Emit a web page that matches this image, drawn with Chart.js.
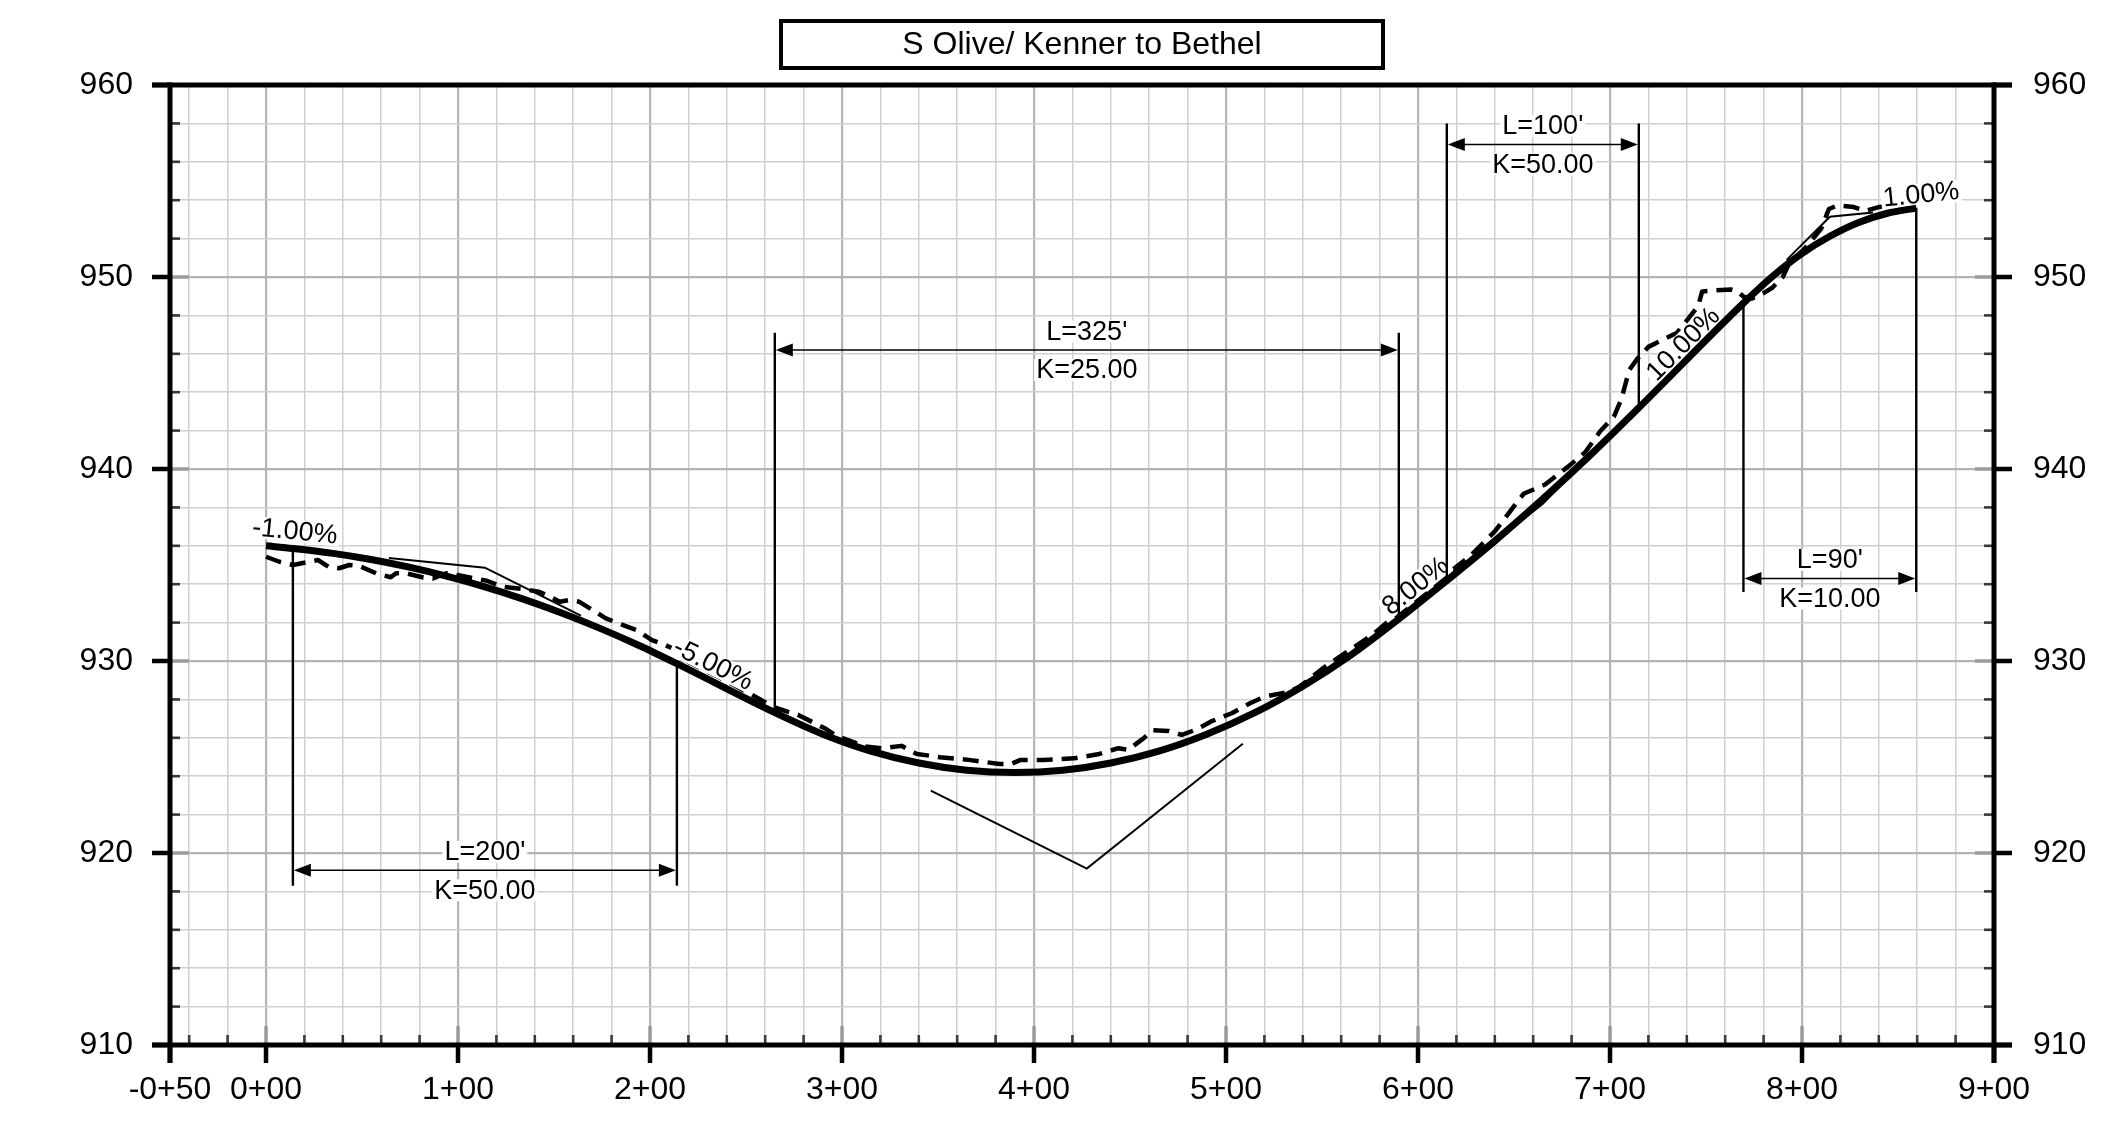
<!DOCTYPE html>
<html>
<head>
<meta charset="utf-8">
<script src="https://cdn.jsdelivr.net/npm/chart.js@4.4.0/dist/chart.umd.min.js"></script>
<style>
html,body{margin:0;padding:0;background:#fff;}
#wrap{width:2109px;height:1130px;position:relative;background:#fff;}
canvas{display:block;}
</style>
</head>
<body>
<div id="wrap"><canvas id="c" width="2109" height="1130"></canvas></div>
<script>
// ---------- data ----------
const chartTitle = 'S Olive/ Kenner to Bethel';

const xTickValues = [-50, 0, 100, 200, 300, 400, 500, 600, 700, 800, 900];
const xTickLabels = ['-0+50', '0+00', '1+00', '2+00', '3+00', '4+00', '5+00', '6+00', '7+00', '8+00', '9+00'];
const xMinorValues = [-40, -20, 20, 40, 60, 80, 120, 140, 160, 180, 220, 240, 260, 280, 320, 340, 360, 380,
  420, 440, 460, 480, 520, 540, 560, 580, 620, 640, 660, 680, 720, 740, 760, 780, 820, 840, 860, 880];
const yTickValues = [910, 920, 930, 940, 950, 960];
const yTickLabels = ['910', '920', '930', '940', '950', '960'];
const yMinorValues = [912, 914, 916, 918, 922, 924, 926, 928, 932, 934, 936, 938, 942, 944, 946, 948, 952, 954, 956, 958];

// proposed profile (thick solid)
const proposedStations = [0, 14, 34, 54, 74, 94, 114, 134, 154, 174, 194, 214, 265, 290, 315, 340, 365, 390, 415,
  440, 465, 490, 515, 540, 565, 590, 615, 640, 665, 690, 715, 769.5, 784.5, 799.5, 814.5, 829.5, 844.5, 859.5];
const proposedElev = [936.00, 935.86, 935.62, 935.30, 934.90, 934.42, 933.86, 933.22, 932.50, 931.70, 930.82, 929.86,
  927.31, 926.19, 925.31, 924.69, 924.31, 924.19, 924.31, 924.69, 925.31, 926.19, 927.31, 928.69, 930.31, 932.19,
  934.19, 936.25, 938.44, 940.75, 943.19, 948.64, 950.02, 951.19, 952.12, 952.84, 953.32, 953.59];

// existing ground (dashed)
const groundStations = [0, 7, 14, 22.6, 27, 33, 38, 43.4, 48.6, 57.3, 65, 67.7, 73, 82, 87, 94, 101, 115, 123, 135,
  142, 148, 153, 158, 163, 170, 177, 186, 193, 201, 208, 213.5, 220, 236, 252, 264, 271.5, 277, 291, 297, 312, 321,
  331, 339, 351, 366, 382, 388, 393, 405, 421, 434, 444, 449, 457, 462, 470, 477, 485, 492, 503, 512.5, 520, 533,
  538, 551, 562, 576, 587, 600, 612.5, 627, 640, 646.5, 655, 666, 678, 687, 695, 702, 706, 710, 714, 720, 735, 746,
  748, 753, 763, 766.5, 769.6, 774, 780, 784.5, 790, 793, 801.5, 810, 814, 818.5, 827, 833, 840, 846];
const groundElev = [935.43, 935.17, 935.00, 935.17, 935.26, 934.88, 934.83, 935.00, 934.95, 934.57, 934.36, 934.57,
  934.57, 934.35, 934.30, 934.57, 934.45, 934.18, 933.87, 933.73, 933.61, 933.35, 933.09, 933.18, 933.09, 932.66,
  932.22, 931.87, 931.61, 931.09, 930.83, 930.57, 929.95, 929.15, 928.30, 927.62, 927.36, 927.20, 926.50, 926.10,
  925.55, 925.45, 925.58, 925.16, 924.99, 924.85, 924.64, 924.64, 924.85, 924.85, 924.93, 925.16, 925.46, 925.37,
  925.97, 926.40, 926.36, 926.15, 926.45, 926.84, 927.28, 927.80, 928.14, 928.40, 928.64, 929.66, 930.41, 931.34,
  932.28, 933.21, 934.33, 935.45, 936.75, 937.60, 938.71, 939.18, 940.11, 940.86, 941.98, 942.72, 943.66, 945.15,
  945.71, 946.36, 947.10, 948.50, 949.25, 949.29, 949.35, 949.25, 948.97, 948.88, 949.16, 949.44, 950.00, 950.65,
  951.49, 952.52, 953.54, 953.73, 953.64, 953.45, 953.64, 953.70];

// PVI tangent lines (thin)
const tangent1Stations = [64, 114, 164];
const tangent1Elev = [935.36, 934.86, 932.36];
const tangent2Stations = [346.25, 427.5, 508.75];
const tangent2Elev = [923.25, 919.19, 925.69];
const tangent3Stations = [640, 665, 690];
const tangent3Elev = [936.19, 938.19, 940.69];
const tangent4Stations = [792, 814.5, 837];
const tangent4Elev = [950.89, 953.14, 953.36];

// vertical curve dimensions
const dimStartStations = [14, 265, 615, 769.5];
const dimEndStations = [214, 590, 715, 859.5];
const dimStartElev = [935.86, 927.31, 934.19, 948.64];
const dimEndElev = [929.86, 932.19, 943.19, 953.59];
const dimArrowElev = [919.1, 946.2, 956.9, 934.3];
const dimTipElev = [918.3, 947.1, 958.0, 933.6];
const dimLengthLabels = ["L=200'", "L=325'", "L=100'", "L=90'"];
const dimKLabels = ['K=50.00', 'K=25.00', 'K=50.00', 'K=10.00'];

// grade labels
const gradeLabels = ['-1.00%', '-5.00%', '8.00%', '10.00%', '1.00%'];
const gradeValues = [-1, -5, 8, 10, 1];
const gradeLabelStations = [15, 233, 598.6, 738, 862];
const gradeLabelElev = [936.77, 929.84, 933.92, 946.52, 954.31];

// ---------- helpers ----------
const FONT = '"Liberation Sans", Arial, Helvetica, sans-serif';
function pts(xs, ys) { return xs.map((v, i) => ({ x: v, y: ys[i] })); }
function seg(ctx, x1, y1, x2, y2) { ctx.beginPath(); ctx.moveTo(x1, y1); ctx.lineTo(x2, y2); ctx.stroke(); }
function labelBox(ctx, text, cx, cy) {
  const w = ctx.measureText(text).width;
  ctx.fillStyle = '#fff';
  ctx.fillRect(cx - w / 2 - 2, cy - 11, w + 4, 22);
  ctx.fillStyle = '#000';
  ctx.fillText(text, cx, cy + 1);
}
const allX = xTickValues.concat(xMinorValues).sort((a, b) => a - b);
const allY = yTickValues.concat(yMinorValues).sort((a, b) => a - b);

// ---------- plugins ----------
const gradeLabelPlugin = {
  id: 'gradeLabels',
  afterDatasetDraw(chart, args) {
    if (args.index !== 0) return;
    const { ctx, scales: { x, y } } = chart;
    ctx.save();
    ctx.font = '27px ' + FONT;
    ctx.textAlign = 'center';
    ctx.textBaseline = 'middle';
    gradeLabels.forEach((t, i) => {
      const s = gradeLabelStations[i], e = gradeLabelElev[i];
      const px = x.getPixelForValue(s), py = y.getPixelForValue(e);
      const dx = x.getPixelForValue(s + 100) - px;
      const dy = y.getPixelForValue(e + gradeValues[i]) - py;
      const ang = Math.atan2(dy, dx);
      ctx.save();
      ctx.translate(px, py);
      ctx.rotate(ang);
      labelBox(ctx, t, 0, 0);
      ctx.restore();
    });
    ctx.restore();
  }
};

const framePlugin = {
  id: 'frame',
  afterDatasetsDraw(chart) {
    const { ctx, chartArea: { left, right, top, bottom }, scales: { x, y } } = chart;
    ctx.save();
    ctx.lineCap = 'butt';

    // dimensions
    ctx.strokeStyle = '#000';
    ctx.fillStyle = '#000';
    dimStartStations.forEach((s, i) => {
      const xa = x.getPixelForValue(s), xb = x.getPixelForValue(dimEndStations[i]);
      const ya = y.getPixelForValue(dimStartElev[i]), yb = y.getPixelForValue(dimEndElev[i]);
      const yArr = y.getPixelForValue(dimArrowElev[i]), yTip = y.getPixelForValue(dimTipElev[i]);
      ctx.lineWidth = 2.4;
      seg(ctx, xa, ya, xa, yTip);
      seg(ctx, xb, yb, xb, yTip);
      ctx.lineWidth = 1.6;
      seg(ctx, xa + 10, yArr, xb - 10, yArr);
      ctx.beginPath();
      ctx.moveTo(xa + 1, yArr); ctx.lineTo(xa + 18, yArr - 6.5); ctx.lineTo(xa + 18, yArr + 6.5); ctx.closePath(); ctx.fill();
      ctx.beginPath();
      ctx.moveTo(xb - 1, yArr); ctx.lineTo(xb - 18, yArr - 6.5); ctx.lineTo(xb - 18, yArr + 6.5); ctx.closePath(); ctx.fill();
      ctx.font = '27px ' + FONT;
      ctx.textAlign = 'center';
      ctx.textBaseline = 'middle';
      const cx = (xa + xb) / 2;
      labelBox(ctx, dimLengthLabels[i], cx, yArr - 18.5);
      labelBox(ctx, dimKLabels[i], cx, yArr + 20);
    });

    // minor ticks
    ctx.strokeStyle = '#3a3a3a';
    ctx.lineWidth = 2.6;
    xMinorValues.forEach(v => { const p = x.getPixelForValue(v); seg(ctx, p, bottom, p, bottom - 10); });
    yMinorValues.forEach(v => {
      const p = y.getPixelForValue(v);
      seg(ctx, left, p, left + 10, p);
      seg(ctx, right, p, right - 10, p);
    });
    // major inner ticks (gray)
    ctx.strokeStyle = '#9c9c9c';
    ctx.lineWidth = 3.5;
    xTickValues.forEach(v => { const p = x.getPixelForValue(v); seg(ctx, p, bottom, p, bottom - 19); });
    yTickValues.forEach(v => {
      const p = y.getPixelForValue(v);
      seg(ctx, left, p, left + 19, p);
      seg(ctx, right, p, right - 19, p);
    });
    // major outer ticks (black)
    ctx.strokeStyle = '#000';
    ctx.lineWidth = 4.5;
    xTickValues.forEach(v => { const p = x.getPixelForValue(v); seg(ctx, p, bottom, p, bottom + 18); });
    yTickValues.forEach(v => {
      const p = y.getPixelForValue(v);
      seg(ctx, left - 18, p, left, p);
      seg(ctx, right, p, right + 18, p);
    });
    // frame
    ctx.lineWidth = 5;
    seg(ctx, left - 18, top, right + 18, top);
    seg(ctx, left - 18, bottom, right + 18, bottom);
    seg(ctx, left, top - 2.5, left, bottom + 18);
    seg(ctx, right, top - 2.5, right, bottom + 18);

    // title box
    const cx = (left + right) / 2;
    ctx.lineWidth = 4;
    ctx.strokeRect(cx - 301, 21, 602, 47);
    ctx.font = '32px ' + FONT;
    ctx.textAlign = 'center';
    ctx.textBaseline = 'middle';
    ctx.fillStyle = '#000';
    ctx.fillText(chartTitle, cx, 45);
    ctx.restore();
  }
};

// ---------- chart ----------
Chart.defaults.font.family = FONT;
Chart.defaults.color = '#000';

const thin = (xs, ys) => ({
  data: pts(xs, ys), borderColor: '#000', borderWidth: 2, pointRadius: 0, tension: 0, order: 2, clip: false
});

new Chart(document.getElementById('c'), {
  type: 'line',
  data: {
    datasets: [
      { label: 'Existing', data: pts(groundStations, groundElev), borderColor: '#000', borderWidth: 4.5,
        borderDash: [16, 9], borderCapStyle: 'butt', borderJoinStyle: 'round', pointRadius: 0, tension: 0, order: 5 },
      { label: 'Proposed', data: pts(proposedStations, proposedElev), borderColor: '#000', borderWidth: 7,
        cubicInterpolationMode: 'monotone', borderJoinStyle: 'round', pointRadius: 0, order: 1 },
      thin(tangent1Stations, tangent1Elev),
      thin(tangent2Stations, tangent2Elev),
      thin(tangent3Stations, tangent3Elev),
      thin(tangent4Stations, tangent4Elev)
    ]
  },
  options: {
    responsive: false,
    animation: false,
    devicePixelRatio: 1,
    layout: { padding: { top: 85, left: 0, right: 0, bottom: 0 } },
    plugins: { legend: { display: false }, tooltip: { enabled: false }, title: { display: false } },
    scales: {
      x: {
        type: 'linear', min: -50, max: 900,
        afterBuildTicks: s => { s.ticks = allX.map(v => ({ value: v })); },
        afterFit: s => { s.height = 85; },
        grid: {
          drawTicks: false,
          color: c => (xTickValues.includes(c.tick.value) ? '#b3b3b3' : '#d0d0d0'),
          lineWidth: c => (xTickValues.includes(c.tick.value) ? 2.2 : 1.5)
        },
        border: { display: false },
        ticks: {
          autoSkip: false, maxRotation: 0, minRotation: 0, padding: 26,
          font: { size: 32, family: FONT }, color: '#000',
          callback: v => { const i = xTickValues.indexOf(v); return i >= 0 ? xTickLabels[i] : ''; }
        }
      },
      y: {
        type: 'linear', position: 'left', min: 910, max: 960,
        afterBuildTicks: s => { s.ticks = allY.map(v => ({ value: v })); },
        afterFit: s => { s.width = 170; },
        grid: {
          drawTicks: false,
          color: c => (yTickValues.includes(c.tick.value) ? '#b3b3b3' : '#d0d0d0'),
          lineWidth: c => (yTickValues.includes(c.tick.value) ? 2.2 : 1.5)
        },
        border: { display: false },
        ticks: {
          autoSkip: false, padding: 37, font: { size: 32, family: FONT }, color: '#000',
          callback: v => { const i = yTickValues.indexOf(v); return i >= 0 ? yTickLabels[i] : ''; }
        }
      },
      y2: {
        type: 'linear', position: 'right', min: 910, max: 960,
        afterBuildTicks: s => { s.ticks = allY.map(v => ({ value: v })); },
        afterFit: s => { s.width = 115; },
        grid: { display: false, drawTicks: false },
        border: { display: false },
        ticks: {
          autoSkip: false, padding: 39, font: { size: 32, family: FONT }, color: '#000',
          callback: v => { const i = yTickValues.indexOf(v); return i >= 0 ? yTickLabels[i] : ''; }
        }
      }
    }
  },
  plugins: [gradeLabelPlugin, framePlugin]
});
</script>
</body>
</html>
